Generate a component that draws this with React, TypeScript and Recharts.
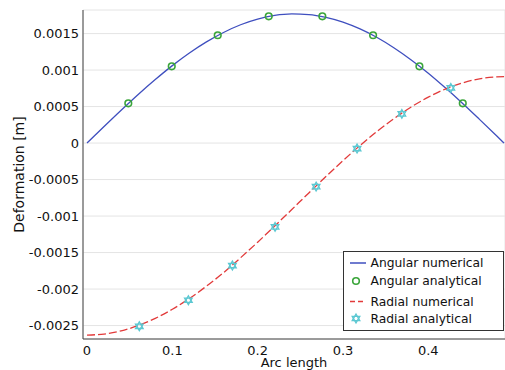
import { ComposedChart, Line, Scatter, XAxis, YAxis, CartesianGrid, Label } from 'recharts'

// numerical solution sampled along the arc
const arcLength = [0, 0.02, 0.04, 0.06, 0.08, 0.1, 0.12, 0.14, 0.16, 0.18, 0.2, 0.22, 0.24, 0.26, 0.28, 0.3, 0.32, 0.34, 0.36, 0.38, 0.4, 0.42, 0.44, 0.46, 0.48, 0.4888]
const angularNumerical = [0, 0.000227, 0.00045, 0.000666, 0.00087, 0.001061, 0.001234, 0.001386, 0.001515, 0.001621, 0.001698, 0.001748, 0.001769, 0.001761, 0.001723, 0.001658, 0.001564, 0.001446, 0.001303, 0.001139, 0.000958, 0.000757, 0.000546, 0.000325, 0.0001, 0]
const radialNumerical = [-0.00263, -0.002616, -0.002572, -0.0025, -0.002401, -0.002277, -0.002129, -0.00196, -0.001775, -0.001571, -0.001358, -0.001136, -0.00091, -0.000683, -0.000459, -0.000241, -0.000033, 0.000161, 0.000337, 0.000495, 0.000629, 0.00074, 0.000824, 0.00088, 0.000907, 0.00091]

// analytical check points
const angularAnalyticalS = [0.0484, 0.0993, 0.1532, 0.213, 0.2758, 0.3353, 0.3896, 0.4404]
const angularAnalyticalV = [0.000545, 0.001052, 0.001477, 0.001737, 0.001737, 0.001477, 0.001052, 0.000545]
const radialAnalyticalS = [0.0613, 0.1188, 0.1704, 0.2204, 0.2685, 0.3165, 0.369, 0.4264]
const radialAnalyticalV = [-0.00251, -0.002153, -0.001678, -0.001148, -0.000596, -0.0000753, 0.0004, 0.000756]

const xTicks = [0, 0.1, 0.2, 0.3, 0.4]
const yTicks = [-0.0025, -0.002, -0.0015, -0.001, -0.0005, 0, 0.0005, 0.001, 0.0015]

const legendItems = ['Angular numerical', 'Angular analytical', 'Radial numerical', 'Radial analytical']

const BLUE = '#3f4fbf'
const GREEN = '#3aa53a'
const RED = '#e23a3a'
const CYAN = '#5cc8d2'
const FONT = '"DejaVu Sans", sans-serif'

const angularNum = arcLength.map((s, i) => ({ s, v: angularNumerical[i] }))
const radialNum = arcLength.map((s, i) => ({ s, v: radialNumerical[i] }))
const angularAn = angularAnalyticalS.map((s, i) => ({ s, v: angularAnalyticalV[i] }))
const radialAn = radialAnalyticalS.map((s, i) => ({ s, v: radialAnalyticalV[i] }))

function hexagram(cx: number, cy: number, r: number) {
  const tri = (off: number) =>
    [0, 1, 2].map(k => {
      const a = off + (k * 2 * Math.PI) / 3
      return `${cx + r * Math.cos(a)},${cy + r * Math.sin(a)}`
    }).join(' ')
  return (
    <g fill="none" stroke={CYAN} strokeWidth={1.3}>
      <polygon points={tri(-Math.PI / 2)} />
      <polygon points={tri(Math.PI / 2)} />
    </g>
  )
}

const CircleMark = (props: any) => (
  <circle cx={props.cx} cy={props.cy} r={3.3} fill="none" stroke={GREEN} strokeWidth={1.6} />
)
const StarMark = (props: any) => hexagram(props.cx, props.cy, 4.4)

function LegendBox() {
  const rows = [263, 281, 301.5, 318.5]
  return (
    <svg width={162} height={81} style={{ position: 'absolute', left: 343, top: 251 }}>
      <rect x={0.5} y={0.5} width={160} height={79} fill="#fff" stroke="#333" strokeWidth={1} />
      <line x1={7} x2={23} y1={rows[0] - 251} y2={rows[0] - 251} stroke={BLUE} strokeWidth={1.5} />
      <circle cx={13} cy={rows[1] - 251} r={3.3} fill="none" stroke={GREEN} strokeWidth={1.6} />
      <line x1={7} x2={23} y1={rows[2] - 251} y2={rows[2] - 251} stroke={RED} strokeWidth={1.5} strokeDasharray="5 3" />
      {hexagram(13, rows[3] - 251, 4.4)}
      {legendItems.map((t, i) => (
        <text key={t} x={27.5} y={rows[i] - 251} dy="0.36em" fontSize={12.3} fontFamily={FONT} fill="#111">{t}</text>
      ))}
    </svg>
  )
}

export default function App() {
  return (
    <div style={{ position: 'absolute', left: 0, top: 0, width: 505, height: 370, background: '#fff', fontFamily: FONT }}>
      <ComposedChart width={505} height={370} margin={{ top: 10, right: 0, bottom: 0, left: 0 }}>
        <CartesianGrid stroke="#e4e4e4" strokeWidth={1} />
        <XAxis
          xAxisId="main"
          type="number"
          dataKey="s"
          domain={[-0.0047, 0.4899]}
          allowDataOverflow
          ticks={xTicks}
          height={31}
          tickLine={false}
          tickSize={0}
          tickMargin={7}
          axisLine={{ stroke: '#444' }}
          tick={{ fill: '#111', fontSize: 13, fontFamily: FONT }}
        >
          <Label value="Arc length" position="insideBottom" offset={3.5} fill="#111" fontSize={13} fontFamily={FONT} />
        </XAxis>
        <XAxis xAxisId="top" orientation="top" type="number" domain={[0, 1]} height={0} tick={false} tickLine={false} axisLine={{ stroke: '#444' }} />
        <YAxis
          type="number"
          domain={[-0.002684, 0.001823]}
          allowDataOverflow
          ticks={yTicks}
          width={83}
          tickLine={false}
          tickSize={0}
          tickMargin={4}
          axisLine={{ stroke: '#444' }}
          tick={{ fill: '#111', fontSize: 13, fontFamily: FONT }}
        >
          <Label
            content={() => (
              <text x={24} y={174.5} textAnchor="middle" transform="rotate(-90, 24, 174.5)" fontSize={14} fontFamily={FONT} fill="#111">
                Deformation [m]
              </text>
            )}
          />
        </YAxis>
        <Line xAxisId="main" data={angularNum} dataKey="v" type="monotone" stroke={BLUE} strokeWidth={1.3} dot={false} isAnimationActive={false} />
        <Line xAxisId="main" data={radialNum} dataKey="v" type="monotone" stroke={RED} strokeWidth={1.3} strokeDasharray="8 3" dot={false} isAnimationActive={false} />
        <Scatter xAxisId="main" data={angularAn} dataKey="v" shape={CircleMark} isAnimationActive={false} />
        <Scatter xAxisId="main" data={radialAn} dataKey="v" shape={StarMark} isAnimationActive={false} />
      </ComposedChart>
      <LegendBox />
    </div>
  )
}
